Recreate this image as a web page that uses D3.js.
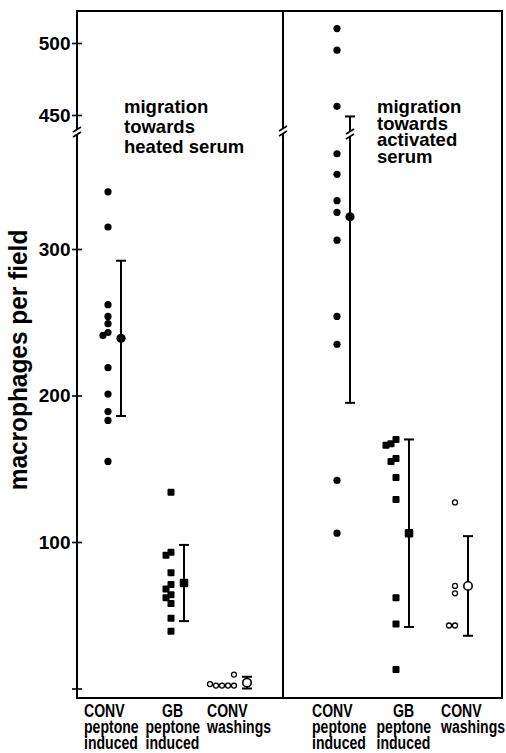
<!DOCTYPE html>
<html>
<head>
<meta charset="utf-8">
<script src="https://cdn.jsdelivr.net/npm/d3@7"></script>
<style>
  body { margin: 0; background: #fff; }
  svg { display: block; background: #fff; }
  text { font-family: "Liberation Sans", Arial, sans-serif; fill: #000; }
</style>
</head>
<body>
<svg width="506" height="753"></svg>
<script>
// groups on the x axis, label lines under each group
const categories = ['CONV peptone induced', 'GB peptone induced', 'CONV washings'];
const catLabels = [['CONV', 'peptone', 'induced'], ['GB', 'peptone', 'induced'], ['CONV', 'washings']];
const markers = ['dot', 'square', 'ring'];
const notes = [['migration', 'towards', 'heated serum'], ['migration', 'towards', 'activated', 'serum']];

// migration towards heated serum
const heatedConv = [339, 315, 262, 254, 249, 243, 241, 219, 201, 189, 183, 155];
const heatedGB = [134, 93, 91, 79, 71, 68, 64, 62, 58, 48, 39];
const heatedWash = [2, 2, 2, 2, 3, 9.5];
const heatedMean = [239, 72, 4];
const heatedSD = [53, 26, 4];

// migration towards activated serum
const activatedConv = [510, 495, 456, 365, 351, 333, 325, 306, 254, 235, 142, 106];
const activatedGB = [170, 167, 166, 157, 155, 144, 129, 62, 44, 13];
const activatedWash = [127, 70, 65, 43, 43];
const activatedMean = [322, 106, 70];
const activatedSD = [127, 64, 34];

// y axis, broken between the two ranges
const lowTicks = [0, 100, 200, 300];
const highTicks = [450, 500];
const yTitle = 'macrophages per field';

let svg = d3.select('svg');
let frame = { left: 77, right: 502, top: 11, bottom: 698, mid: 283 };
let breakY = 132;

let yLow = d3.scaleLinear().domain([0, 300]).range([688.5, 249]);
let yHigh = d3.scaleLinear().domain([450, 500]).range([115, 43]);
function y(v) {
  return v > 400 ? yHigh(v) : yLow(v);
}

let panels = [
  { values: [heatedConv, heatedGB, heatedWash], mean: heatedMean, sd: heatedSD, note: notes[0],
    pts: [108, 234], labs: [84, 207], noteX: 124, noteY: 113, noteGap: 20 },
  { values: [activatedConv, activatedGB, activatedWash], mean: activatedMean, sd: activatedSD, note: notes[1],
    pts: [337, 455], labs: [312, 441], noteX: 377, noteY: 113, noteGap: 16.5 },
];

// white gap + two slashes across a vertical line
function drawBreak(g, x, yc) {
  g.append('rect')
    .attr('x', x - 3).attr('y', yc - 2.5)
    .attr('width', 6).attr('height', 5)
    .attr('fill', '#fff');
  [-2.5, 2.5].forEach(function(dy) {
    g.append('line')
      .attr('x1', x - 4).attr('y1', yc + dy + 2.5)
      .attr('x2', x + 4).attr('y2', yc + dy - 2.5)
      .attr('stroke', '#000').attr('stroke-width', 1.6);
  });
}

// points that would overlap are pushed to the left
function dodge(vals, r, step) {
  let placed = [];
  return vals.map(function(v) {
    let yy = y(v);
    let k = 0;
    while (placed.some(function(p) { return p.k === k && Math.abs(p.y - yy) < 2 * r; })) k++;
    placed.push({ y: yy, k: k });
    return { v: v, y: yy, off: -k * step };
  });
}

function drawMarker(g, type, x, yy, big) {
  if (type === 'dot') {
    g.append('circle').attr('cx', x).attr('cy', yy).attr('r', big ? 4.6 : 3.6).attr('fill', '#000');
  } else if (type === 'square') {
    let s = big ? 8.5 : 7;
    g.append('rect').attr('x', x - s / 2).attr('y', yy - s / 2)
      .attr('width', s).attr('height', s).attr('rx', 1).attr('fill', '#000');
  } else {
    g.append('circle').attr('cx', x).attr('cy', yy).attr('r', big ? 4.2 : 2.5)
      .attr('fill', '#fff').attr('stroke', '#000').attr('stroke-width', big ? 1.6 : 1.3);
  }
}

let plot = svg.append('g');

panels.forEach(function(p) {
  let x = d3.scalePoint().domain(categories).range(p.pts);
  let xl = d3.scalePoint().domain(categories).range(p.labs);

  categories.forEach(function(c, i) {
    let type = markers[i];
    let step = type === 'ring' ? 6 : 5;
    dodge(p.values[i], 3.5, step).forEach(function(d) {
      drawMarker(plot, type, x(c) + d.off, d.y, false);
    });

    // mean +- sd
    let mx = x(c) + 13;
    let top = p.mean[i] + p.sd[i];
    let bot = Math.max(0, p.mean[i] - p.sd[i]);
    plot.append('line')
      .attr('x1', mx).attr('x2', mx)
      .attr('y1', y(top)).attr('y2', y(bot))
      .attr('stroke', '#000').attr('stroke-width', 2);
    [top, bot].forEach(function(v) {
      plot.append('line')
        .attr('x1', mx - 5).attr('x2', mx + 5)
        .attr('y1', y(v)).attr('y2', y(v))
        .attr('stroke', '#000').attr('stroke-width', 2);
    });
    if (top > 400) drawBreak(plot, mx, breakY + 2);
    drawMarker(plot, type, mx, y(p.mean[i]), true);

    // group label under the frame
    catLabels[i].forEach(function(t, j) {
      let short = t.length <= 2;
      plot.append('text')
        .attr('transform', 'translate(' + (xl(c) + (short ? 27 : 0)) + ',' + (717 + j * 16) + ') scale(0.74,1)')
        .attr('text-anchor', short ? 'middle' : 'start')
        .attr('font-size', 19)
        .attr('font-weight', 'bold')
        .text(t);
    });
  });

  p.note.forEach(function(t, j) {
    plot.append('text')
      .attr('x', p.noteX)
      .attr('y', p.noteY + j * p.noteGap)
      .attr('font-size', 18.5)
      .attr('font-weight', 'bold')
      .text(t);
  });
});

// frame
let fr = svg.append('g').attr('fill', 'none').attr('stroke', '#000').attr('stroke-width', 2);
fr.append('rect')
  .attr('x', frame.left).attr('y', frame.top)
  .attr('width', frame.right - frame.left).attr('height', frame.bottom - frame.top);
fr.append('line')
  .attr('x1', frame.mid).attr('x2', frame.mid)
  .attr('y1', frame.top).attr('y2', frame.bottom);
drawBreak(svg, frame.left, breakY);
drawBreak(svg, frame.mid, breakY - 1);

// axes
function styleAxis(g) {
  g.select('.domain').remove();
  g.attr('font-size', 19)
    .attr('font-weight', 'bold')
    .attr('font-family', '"Liberation Sans", Arial, sans-serif');
  g.selectAll('.tick line')
    .attr('x1', 5).attr('x2', -5)
    .attr('stroke', '#000').attr('stroke-width', 1.6);
  g.selectAll('.tick text').attr('fill', '#000');
}
svg.append('g')
  .attr('transform', 'translate(' + frame.left + ',0)')
  .call(d3.axisLeft(yLow).tickValues(lowTicks).tickSize(5).tickPadding(1.5)
    .tickFormat(function(d) { return d === 0 ? '' : d; }))
  .call(styleAxis);
svg.append('g')
  .attr('transform', 'translate(' + frame.left + ',0)')
  .call(d3.axisLeft(yHigh).tickValues(highTicks).tickSize(5).tickPadding(1.5))
  .call(styleAxis);

svg.append('text')
  .attr('transform', 'translate(27,360) rotate(-90) scale(0.94,1)')
  .attr('text-anchor', 'middle')
  .attr('font-size', 26)
  .attr('font-weight', 'bold')
  .text(yTitle);
</script>
</body>
</html>
